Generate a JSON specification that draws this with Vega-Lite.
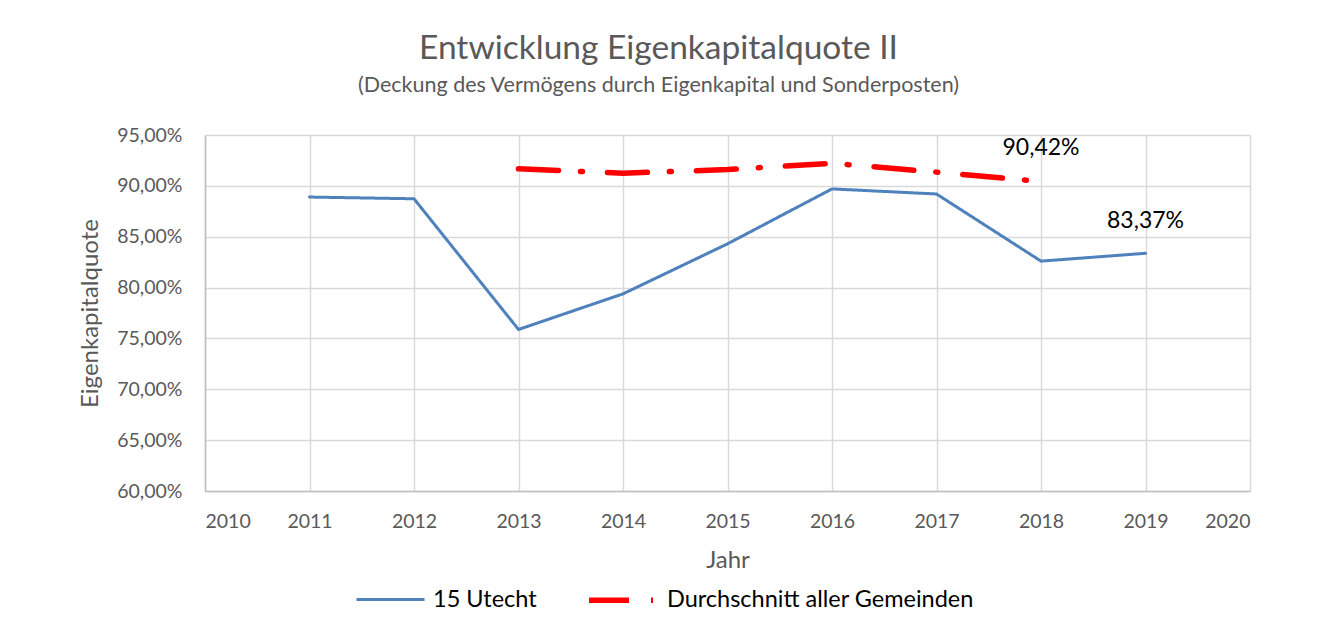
{
  "$schema": "https://vega.github.io/schema/vega-lite/v6.json",
  "width": 1045,
  "height": 356,
  "autosize": {"type": "none"},
  "padding": {"left": 205, "top": 135, "right": 67, "bottom": 144},
  "background": "white",
  "title": {
    "text": "Entwicklung Eigenkapitalquote II",
    "subtitle": "(Deckung des Vermögens durch Eigenkapital und Sonderposten)",
    "anchor": "middle",
    "frame": "group",
    "dx": -69,
    "offset": 28,
    "font": "Lato",
    "fontSize": 33.5,
    "fontWeight": "normal",
    "color": "#595959",
    "subtitleFont": "Lato",
    "subtitleFontSize": 21.5,
    "subtitleColor": "#595959",
    "subtitlePadding": 8
  },
  "data": {
    "values": [
      {"jahr": 2011, "wert": 0.8890, "series": "15 Utecht"},
      {"jahr": 2012, "wert": 0.8873, "series": "15 Utecht"},
      {"jahr": 2013, "wert": 0.7588, "series": "15 Utecht"},
      {"jahr": 2014, "wert": 0.7938, "series": "15 Utecht"},
      {"jahr": 2015, "wert": 0.8430, "series": "15 Utecht"},
      {"jahr": 2016, "wert": 0.8970, "series": "15 Utecht"},
      {"jahr": 2017, "wert": 0.8920, "series": "15 Utecht"},
      {"jahr": 2018, "wert": 0.8260, "series": "15 Utecht"},
      {"jahr": 2019, "wert": 0.8337, "series": "15 Utecht"},
      {"jahr": 2013, "wert": 0.9167, "series": "Durchschnitt aller Gemeinden"},
      {"jahr": 2014, "wert": 0.9125, "series": "Durchschnitt aller Gemeinden"},
      {"jahr": 2015, "wert": 0.9160, "series": "Durchschnitt aller Gemeinden"},
      {"jahr": 2016, "wert": 0.9222, "series": "Durchschnitt aller Gemeinden"},
      {"jahr": 2017, "wert": 0.9135, "series": "Durchschnitt aller Gemeinden"},
      {"jahr": 2018, "wert": 0.9042, "series": "Durchschnitt aller Gemeinden"}
    ]
  },
  "layer": [
    {
      "mark": {"type": "line", "strokeCap": "round"},
      "encoding": {
        "x": {
          "field": "jahr", "type": "quantitative",
          "scale": {"domain": [2010, 2020], "nice": false, "zero": false},
          "axis": {
            "title": "Jahr", "format": "d", "values": [2010, 2011, 2012, 2013, 2014, 2015, 2016, 2017, 2018, 2019, 2020],
            "grid": true, "gridColor": "#d9d9d9", "gridWidth": 1.5,
            "domainColor": "#bfbfbf", "domainWidth": 1.5, "ticks": false,
            "labelFont": "Lato", "labelFontSize": 19.5, "labelColor": "#595959", "labelPadding": 21,
            "titleFont": "Lato", "titleFontSize": 24, "titleFontWeight": "normal", "titleColor": "#595959", "titlePadding": 18
          }
        },
        "y": {
          "field": "wert", "type": "quantitative",
          "scale": {"domain": [0.6, 0.95], "nice": false, "zero": false},
          "axis": {
            "title": "Eigenkapitalquote", "format": ".2%", "values": [0.6, 0.65, 0.7, 0.75, 0.8, 0.85, 0.9, 0.95],
            "grid": true, "gridColor": "#d9d9d9", "gridWidth": 1.5,
            "domainColor": "#bfbfbf", "domainWidth": 1.5, "ticks": false,
            "labelFont": "Lato", "labelFontSize": 19.5, "labelColor": "#595959", "labelPadding": 23,
            "titleFont": "Lato", "titleFontSize": 24, "titleFontWeight": "normal", "titleColor": "#595959", "titlePadding": 14
          }
        },
        "color": {
          "field": "series", "type": "nominal", "title": null,
          "scale": {"domain": ["15 Utecht", "Durchschnitt aller Gemeinden"], "range": ["#4f81bd", "#ff0000"]},
          "legend": {
            "orient": "none", "legendX": 150, "legendY": 428, "direction": "horizontal",
            "symbolType": "stroke", "symbolSize": 4624, "labelFont": "Lato", "labelFontSize": 23.5,
            "labelColor": "#000000", "columnPadding": 41, "labelOffset": 7, "labelLimit": 600
          }
        },
        "strokeDash": {
          "field": "series", "type": "nominal", "title": null,
          "scale": {"domain": ["15 Utecht", "Durchschnitt aller Gemeinden"], "range": [[1, 0], [40, 22, 2, 25]]}
        },
        "strokeWidth": {
          "field": "series", "type": "nominal", "title": null,
          "scale": {"domain": ["15 Utecht", "Durchschnitt aller Gemeinden"], "range": [3, 5.5]}
        }
      }
    },
    {
      "transform": [{"filter": "datum.series === 'Durchschnitt aller Gemeinden' && datum.jahr === 2018"}],
      "mark": {"type": "text", "dy": -34, "fontSize": 23, "font": "Lato", "color": "#000000"},
      "encoding": {
        "x": {"field": "jahr", "type": "quantitative"},
        "y": {"field": "wert", "type": "quantitative"},
        "text": {"field": "wert", "type": "quantitative", "format": ".2%"}
      }
    },
    {
      "transform": [{"filter": "datum.series === '15 Utecht' && datum.jahr === 2019"}],
      "mark": {"type": "text", "dy": -32, "fontSize": 23, "font": "Lato", "color": "#000000"},
      "encoding": {
        "x": {"field": "jahr", "type": "quantitative"},
        "y": {"field": "wert", "type": "quantitative"},
        "text": {"field": "wert", "type": "quantitative", "format": ".2%"}
      }
    }
  ],
  "config": {
    "locale": {"number": {"decimal": ",", "thousands": ".", "grouping": [3], "currency": ["", " €"]}},
    "view": {"stroke": null}
  }
}
